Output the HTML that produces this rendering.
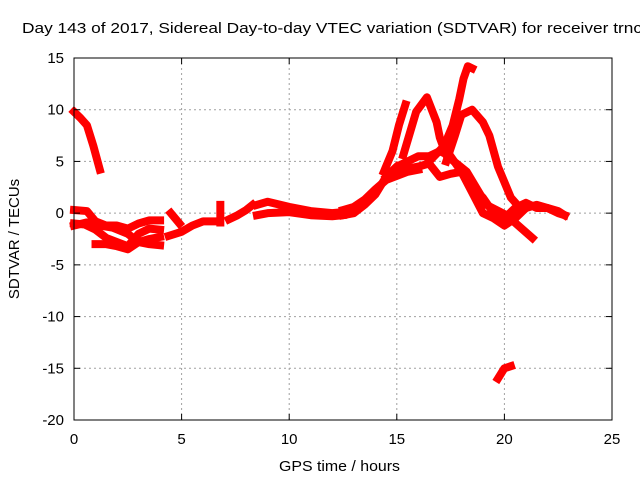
<!DOCTYPE html>
<html><head><meta charset="utf-8"><style>
body{margin:0;background:#fff}
svg{display:block;font-family:"Liberation Sans",sans-serif}
</style></head><body>
<svg width="640" height="480" viewBox="0 0 640 480">
<g id="grid"></g>
<g id="series"></g>
<g id="axes"></g>
<text x="22" y="33" font-size="15" textLength="620" lengthAdjust="spacingAndGlyphs">Day 143 of 2017, Sidereal Day-to-day VTEC variation (SDTVAR) for receiver trnc</text>
<text x="279" y="471" font-size="15" textLength="121" lengthAdjust="spacingAndGlyphs">GPS time / hours</text>
<text x="19" y="239" font-size="15" text-anchor="middle" transform="rotate(-90 19 239)">SDTVAR / TECUs</text>
</svg>
<script>
const xTicks=[0,5,10,15,20,25];
const yTicks=[15,10,5,0,-5,-10,-15,-20];
const track1=[[0,9.8],[0.3,9.2],[0.6,8.5],[0.9,6.5],[1.2,4.2]];
const track2=[[0,0.3],[0.6,0.2],[1.0,-0.8],[1.5,-1.2],[2,-1.2],[2.5,-1.5],[3,-1.0],[3.5,-0.7],[4,-0.7]];
const track3=[[0,-1.0],[0.5,-1.1],[1,-1.6],[1.5,-2.4],[2,-2.8],[2.5,-3.2],[3,-2.0],[3.5,-1.5],[4,-1.6]];
const track4=[[1,-3.0],[1.5,-3.0],[2,-3.2],[2.5,-3.5],[3,-2.8],[3.5,-3.0],[4,-3.1]];
const track5=[[0,-1.2],[0.6,-0.9],[1.2,-1.2],[1.8,-1.4],[2.5,-2.0],[3,-2.8],[3.5,-2.5],[4,-2.3]];
const track6=[[4.4,-2.2],[5,-1.8],[5.5,-1.2],[6,-0.8],[6.5,-0.8]];
const track7=[[4.5,0.0],[4.9,-1.0]];
const track8=[[6.8,-0.9],[6.8,0.8]];
const track9=[[7.2,-0.6],[7.6,-0.2],[8.0,0.3],[8.3,0.8]];
const track10=[[8.5,0.8],[9,1.1],[10,0.6],[11,0.2],[12,0],[12.5,0.1]];
const track11=[[8.5,-0.2],[9,0],[10,0.1],[11,-0.2],[12,-0.3],[12.5,-0.2]];
const trackA=[[16.5,5],[17.2,6.5],[17.6,8.5],[17.9,11],[18.1,13],[18.3,14.2],[18.5,14]];
const trackB=[[14.4,4],[14.8,6],[15.1,8.5],[15.4,10.5]];
const trackC=[[15.3,5.6],[15.9,9.8],[16.4,11.2],[16.85,8.8],[17,7.3],[17.3,5.6],[18.25,4],[19.17,0.8],[20.1,-0.2],[21.3,-2.4]];
const trackD=[[17.3,5],[17.7,7.5],[18.0,9.5],[18.5,10],[19,8.8],[19.3,7.5],[19.5,6],[19.7,4.5],[20,3],[20.3,1.5],[20.6,0.8],[21,0.5],[21.5,0.8],[22,0.5],[22.5,0.2],[22.8,-0.2]];
const trackF=[[14.5,3.5],[15,4.5],[15.5,5],[16,5.5],[16.5,5.5],[17,6],[17.5,5.5],[18,4],[18.5,2.5],[19,1.5],[19.5,0],[20,-0.5],[20.5,0.5],[21,1],[21.5,0.5],[22,0.5],[22.5,0],[22.8,-0.2]];
const trackG=[[15,4],[15.5,4.3],[16,4.5],[16.5,4.8],[17,3.5],[17.5,3.8],[18,4],[18.5,2],[19,0],[19.5,-0.5],[20,-1.2],[20.5,-0.5],[21,0.5]];
const trackH=[[12.5,0.3],[13,0.6],[13.5,1.3],[14,2.3],[14.5,3.2],[15,3.6],[15.5,4],[16,4.2]];
const trackI=[[12.5,-0.2],[13,0],[13.5,0.8],[14,1.8],[14.5,3.5],[15,4.5]];
const trackOut=[[19.7,-16],[20,-15],[20.3,-14.8]];
const tracks=[track1,track2,track3,track4,track5,track6,track7,track8,track9,track10,track11,trackA,trackB,trackC,trackD,trackF,trackG,trackH,trackI,trackOut];
const X0=74,X1=612,Y0=58,Y1=420;
const px=x=>X0+(x-0)/25*(X1-X0);
const py=v=>Y0+(15-v)/35*(Y1-Y0);
const NS='http://www.w3.org/2000/svg';
function mk(tag,at,parent){const e=document.createElementNS(NS,tag);for(const k in at)e.setAttribute(k,at[k]);parent.appendChild(e);return e;}
const grid=document.getElementById('grid'),axes=document.getElementById('axes'),ser=document.getElementById('series');
xTicks.forEach(t=>{
 if(t>0&&t<25){const l=mk('line',{x1:px(t),x2:px(t),y1:Y0,y2:Y1,stroke:'#a0a0a0','stroke-dasharray':'2,3'},grid);
 
 }
 const tk=mk('text',{x:px(t),y:Y1+24,'font-size':15,'text-anchor':'middle'},axes);tk.textContent=t;
 
 
 mk('line',{x1:px(t),x2:px(t),y1:Y1,y2:Y1-6,stroke:'#000'},axes);
 mk('line',{x1:px(t),x2:px(t),y1:Y0,y2:Y0+6,stroke:'#000'},axes);
});
yTicks.forEach(t=>{
 if(t<15&&t>-20){const l=mk('line',{x1:X0,x2:X1,y1:py(t),y2:py(t),stroke:'#a0a0a0','stroke-dasharray':'2,3'},grid);
 
 }
 const tk=mk('text',{x:X0-10,y:py(t)+5,'font-size':15,'text-anchor':'end'},axes);tk.textContent=t;
 
 
 mk('line',{x1:X0,x2:X0+6,y1:py(t),y2:py(t),stroke:'#000'},axes);
 mk('line',{x1:X1,x2:X1-6,y1:py(t),y2:py(t),stroke:'#000'},axes);
});
const fr=mk('rect',{x:X0,y:Y0,width:X1-X0,height:Y1-Y0,fill:'none',stroke:'#000'},axes);


tracks.forEach(tr=>{
 const p=mk('polyline',{points:tr.map(d=>px(d[0])+','+py(d[1])).join(' '),fill:'none',stroke:'#ff0000','stroke-width':8,'stroke-linejoin':'round','stroke-linecap':'square'},ser);
 
 
});
</script>
</body></html>
